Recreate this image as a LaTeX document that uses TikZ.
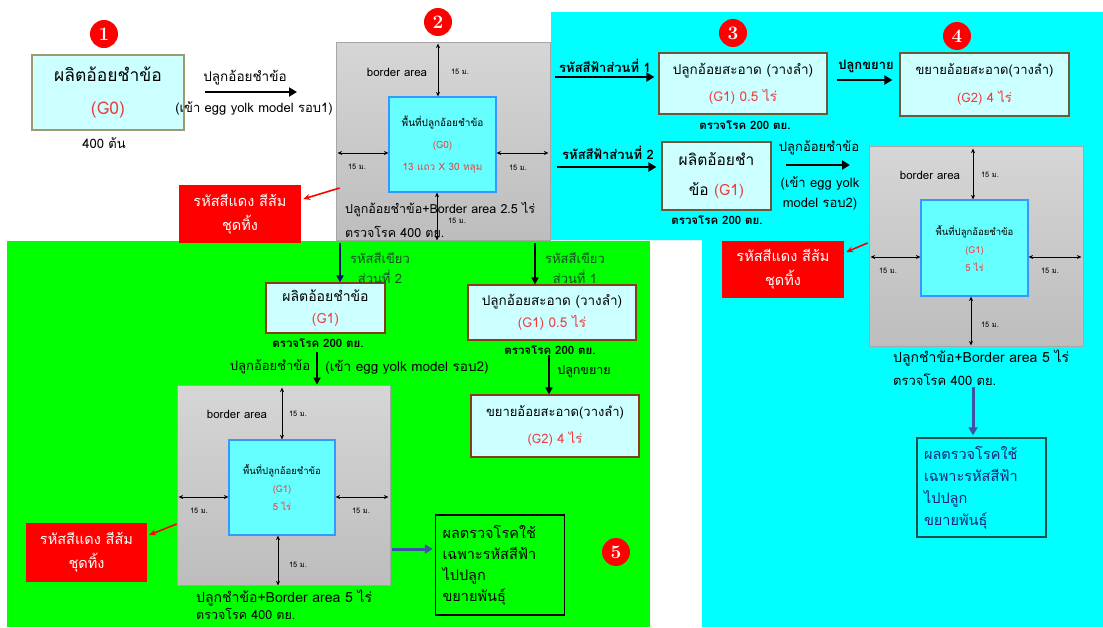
\documentclass[tikz,border=0pt]{standalone}
\usepackage{fontspec}
\newfontfamily\thai[Script=Thai]{Loma}
\usetikzlibrary{arrows.meta,calc}
\newcommand\fsz[2]{\fontsize{#1}{#2}\selectfont}
\definecolor{cyanbg}{HTML}{00FFFF}
\definecolor{greenbg}{HTML}{00FF00}
\definecolor{lcyan}{HTML}{CCFFFF}
\definecolor{incyan}{HTML}{66FFFF}
\definecolor{innerblue}{HTML}{3399FF}
\definecolor{boxred}{HTML}{FF0000}
\definecolor{tred}{HTML}{F03C3C}
\definecolor{olivebd}{HTML}{A09870}
\definecolor{darkolive}{HTML}{6B5A3A}
\definecolor{brownbd}{HTML}{8B3A1A}
\definecolor{navytxt}{HTML}{1A237E}
\definecolor{arrblue}{HTML}{3F51A5}
\definecolor{navyarr}{HTML}{101060}
\definecolor{dkgreen}{HTML}{145020}
\definecolor{tealbd}{HTML}{1F5050}
\definecolor{graytop}{HTML}{D6D6D6}
\definecolor{graybot}{HTML}{BDBDBD}
\begin{document}
\begin{tikzpicture}[x=1pt,y=-1pt,font=\thai,
  box/.style={draw=darkolive, fill=lcyan, line width=1.2pt, align=center, inner sep=0pt},
  graybox/.style={draw=gray!70, top color=graytop, bottom color=graybot, line width=0.8pt},
  inbox/.style={draw=innerblue, fill=incyan, line width=1.2pt, align=center, inner sep=0pt},
  redbox/.style={fill=boxred, draw=none, text=white, align=center, inner sep=0pt},
  resbox/.style={line width=1.4pt, align=left, inner xsep=7pt, text width=115pt},
  bigarr/.style={line width=2.6pt, -{Triangle[length=8pt,width=9pt]}},
  medarr/.style={line width=2pt, -{Triangle[length=7pt,width=7pt]}},
  dimarr/.style={line width=0.8pt, {Stealth[length=4.5pt,width=4pt]}-{Stealth[length=4.5pt,width=4pt]}},
  redarr/.style={draw=red, line width=1.6pt, -{Stealth[length=7pt,width=6pt]}},
  bluearr/.style={draw=arrblue, line width=3pt, -{Triangle[length=8pt,width=9pt]}},
  num/.style={circle, fill=red, text=white, minimum size=28pt, inner sep=0pt, font=\normalfont\bfseries\fsz{19}{19}},
  lbl/.style={font=\thai\fsz{13.5}{20}, align=center, inner sep=0pt},
  blbl/.style={font=\thai\bfseries\fsz{13}{20}, align=center, inner sep=0pt},
  chk/.style={font=\thai\bfseries\fsz{11.5}{12}, inner sep=0pt},
  dimlab/.style={font=\thai\fsz{7.5}{9}, inner sep=0pt},
  borderlab/.style={font=\thai\fsz{11.5}{12}, inner sep=0pt},
  glab/.style={font=\thai\fsz{14}{16}, anchor=west, inner sep=0pt}
]
\useasboundingbox (0,0) rectangle (1103,627);
\fill[white] (0,0) rectangle (1103,627);
\fill[cyanbg] (551,12) -- (1103,12) -- (1103,627) -- (702,627) -- (702,240) -- (551,240) -- cycle;
\fill[greenbg] (7,241) rectangle (650,627);

% ---------- 1 ----------
\node[num] (n1) at (104,34) {1};
\node[box, draw=olivebd, minimum width=152, minimum height=75, font=\thai\fsz{17.5}{33}] (b1) at (108,92.5) {ผลิตอ้อยชำข้อ\\\textcolor{tred}{(G0)}};
\node[font=\thai\fsz{13}{14}, inner sep=0pt] (c1) at (104,143) {400 ต้น};
\coordinate (a1s) at (205,92);
\coordinate (a1e) at (297,92);
\draw[bigarr] (a1s) -- (a1e);
\node[lbl] (a1t) at (245,78) {ปลูกอ้อยชำข้อ};
\node[lbl, font=\thai\fsz{13}{20}] (a1b) at (254,108) {(เข้า egg yolk model รอบ1)};

% ---------- 2 ----------
\node[num] (n2) at (438,22) {2};
\node[graybox, minimum width=214, minimum height=198] (g2) at (443,141) {};
\node[inbox, minimum width=107, minimum height=95, font=\thai\fsz{10}{22}] (in2) at (442.5,144.5) {พื้นที่ปลูกอ้อยชำข้อ\\\textcolor{tred}{(G0)}\\\textcolor{tred}{13 แถว X 30 หลุม}};
\draw[dimarr] ([xshift=-4.5]in2.north) -- ([xshift=-4.5,yshift=-2]in2.north |- g2.north);
\draw[dimarr] ([yshift=-8.5]in2.west) -- ([yshift=-8.5,xshift=2]in2.west -| g2.west);
\draw[dimarr] ([yshift=-8.5]in2.east) -- ([yshift=-8.5,xshift=-2]in2.east -| g2.east);
\draw[dimarr] ([xshift=-5.5]in2.south) -- ([xshift=-5.5]in2.south |- g2.south);
\node[borderlab] (ba2) at (397,72) {border area};
\node[dimlab] (d2t) at (460,72) {15 ม.};
\node[dimlab] (d2l) at (357,167) {15 ม.};
\node[dimlab] (d2r) at (518,168) {15 ม.};
\node[dimlab] (d2b) at (457,221) {15 ม.};
\node[font=\thai\fsz{12.5}{14}, anchor=west, inner sep=0pt] (g2t1) at (345,210) {ปลูกอ้อยชำข้อ+Border area 2.5 ไร่};
\node[font=\thai\fsz{12.5}{14}, anchor=west, inner sep=0pt] (g2t2) at (345,232) {ตรวจโรค 400 ตย.};
\node[redbox, minimum width=122, minimum height=58, font=\thai\fsz{14.5}{24}] (r1) at (240,214) {รหัสสีแดง สีส้ม\\ชุดทิ้ง};
\draw[redarr] ([yshift=-47,xshift=4]g2.west) -- ([yshift=15,xshift=2]r1.east);

% ---------- 3 ----------
\node[num] (n3) at (733,33) {3};
\node[blbl] (l3a) at (605,66) {รหัสสีฟ้าส่วนที่ 1};
\node[box, minimum width=168, minimum height=61, font=\thai\fsz{13.5}{27}] (b3a) at (743,83.5) {ปลูกอ้อยสะอาด (วางลำ)\\\textcolor{tred}{(G1) 0.5 ไร่}};
\draw[bigarr] ([xshift=-103,yshift=6.5]b3a.west) -- ([xshift=-4,yshift=6.5]b3a.west);
\node[chk] (k3a) at (745,125) {ตรวจโรค 200 ตย.};
\node[blbl] (l34) at (866,66) {ปลูกขยาย};

% ---------- 4 ----------
\node[num] (n4) at (957,36) {4};
\node[box, minimum width=169, minimum height=63, font=\thai\fsz{13}{28}] (b4) at (984.5,84.5) {ขยายอ้อยสะอาด(วางลำ)\\\textcolor{tred}{(G2) 4 ไร่}};
\draw[bigarr] ([xshift=9,yshift=3.5]b3a.east) -- ([xshift=-7,yshift=4.5]b4.west);

% ---------- 3b ----------
\node[blbl] (l3b) at (608,153) {รหัสสีฟ้าส่วนที่ 2};
\node[box, minimum width=109, minimum height=68, font=\thai\fsz{15.5}{30}] (b3b) at (716.5,176) {ผลิตอ้อยชำ\\ข้อ \textcolor{tred}{(G1)}};
\draw[bigarr] ([xshift=-104,yshift=9]b3b.west) -- ([xshift=-5,yshift=9]b3b.west);
\node[chk] (k3b) at (717,220) {ตรวจโรค 200 ตย.};
\coordinate (a3e) at (850,165);
\draw[bigarr] ([xshift=14,yshift=11]b3b.east) -- (a3e);
\node[font=\thai\fsz{13}{20}, inner sep=0pt] (a3t) at (819,148) {ปลูกอ้อยชำข้อ};
\node[font=\thai\fsz{13}{20}, align=center, inner sep=0pt] (a3b) at (820,193) {(เข้า egg yolk\\model รอบ2)};

% ---------- right gray ----------
\node[graybox, minimum width=214, minimum height=200] (g4) at (976,246) {};
\node[inbox, minimum width=107, minimum height=96, font=\thai\fsz{9.5}{18}] (in4) at (974.5,248) {พื้นที่ปลูกอ้อยชำข้อ\\\textcolor{tred}{(G1)}\\\textcolor{tred}{5 ไร่}};
\draw[dimarr] ([xshift=-1.5]in4.north) -- ([xshift=-1.5,yshift=-3]in4.north |- g4.north);
\draw[dimarr] ([yshift=-9]in4.west) -- ([yshift=-9,xshift=2]in4.west -| g4.west);
\draw[dimarr] ([yshift=-9]in4.east) -- ([yshift=-9,xshift=-2]in4.east -| g4.east);
\draw[dimarr] ([xshift=-3.5]in4.south) -- ([xshift=-3.5,yshift=1]in4.south |- g4.south);
\node[borderlab] (ba4) at (930,175) {border area};
\node[dimlab] (d4t) at (990,175) {15 ม.};
\node[dimlab] (d4l) at (888,271) {15 ม.};
\node[dimlab] (d4r) at (1050,271) {15 ม.};
\node[dimlab] (d4b) at (990,325) {15 ม.};
\node[glab] (g4t1) at (893,358) {ปลูกชำข้อ+Border area 5 ไร่};
\node[glab, font=\thai\fsz{13}{14}] (g4t2) at (893,380) {ตรวจโรค 400 ตย.};
\node[redbox, minimum width=122, minimum height=57, font=\thai\fsz{14.5}{24}] (r2) at (783,269.5) {รหัสสีแดง สีส้ม\\ชุดทิ้ง};
\draw[redarr] ([yshift=3,xshift=-1]g4.west) -- ([yshift=17.5,xshift=2]r2.east);
\node[resbox, draw=tealbd, minimum height=99, text=navytxt, font=\thai\fsz{14.5}{22}] (res2) at (981.5,487.5) {ผลตรวจโรคใช้\\เฉพาะรหัสสีฟ้า\\ไปปลูก\\ขยายพันธุ์};
\coordinate (bs2) at (973,387);
\draw[bluearr] (bs2) -- ([yshift=2]bs2 |- res2.north);

% ---------- green ----------
\node[box, draw=brownbd, minimum width=119, minimum height=50, font=\thai\fsz{14}{22}] (gG1) at (325.5,308) {ผลิตอ้อยชำข้อ\\\textcolor{tred}{(G1)}};
\draw[medarr, draw=navyarr] ([xshift=14.5,yshift=-3]gG1.north |- g2.south) -- ([xshift=14.5]gG1.north);
\node[lbl, font=\thai\fsz{13}{20}, text=dkgreen] (lg2) at (380,268) {รหัสสีเขียว\\ส่วนที่ 2};
\node[chk] (kg1) at (318,343) {ตรวจโรค 200 ตย.};

\node[box, draw=brownbd, minimum width=168, minimum height=55, font=\thai\fsz{13.5}{22}] (gA) at (552,312.5) {ปลูกอ้อยสะอาด (วางลำ)\\\textcolor{tred}{(G1) 0.5 ไร่}};
\draw[medarr] ([xshift=-17,yshift=-3]gA.north |- g2.south) -- ([xshift=-17]gA.north);
\node[lbl, font=\thai\fsz{13}{20}, text=dkgreen] (lg1) at (575,268) {รหัสสีเขียว\\ส่วนที่ 1};
\node[chk] (kga) at (550,350) {ตรวจโรค 200 ตย.};
\node[box, draw=brownbd, minimum width=168, minimum height=62, font=\thai\fsz{13}{27}] (gB) at (555,426) {ขยายอ้อยสะอาด(วางลำ)\\\textcolor{tred}{(G2) 4 ไร่}};
\coordinate (gas) at (549,355);
\draw[medarr] (gas) -- (gas |- gB.north);
\node[font=\thai\fsz{12.5}{14}, inner sep=0pt] (lgab) at (584,372) {ปลูกขยาย};

\node[graybox, minimum width=213, minimum height=200] (g5) at (283.5,485) {};
\node[inbox, minimum width=106, minimum height=95, font=\thai\fsz{9.5}{18}] (in5) at (282,487.5) {พื้นที่ปลูกอ้อยชำข้อ\\\textcolor{tred}{(G1)}\\\textcolor{tred}{5 ไร่}};
\coordinate (g5s) at (317,352);
\draw[medarr] (g5s) -- (g5s |- g5.north);
\node[font=\thai\fsz{13}{14}, inner sep=0pt] (l5a) at (270,367) {ปลูกอ้อยชำข้อ};
\node[font=\thai\fsz{13.5}{14}, inner sep=0pt] (l5b) at (407,367) {(เข้า egg yolk model รอบ2)};
\draw[dimarr] (in5.north) -- ([yshift=-3]in5.north |- g5.north);
\draw[dimarr] ([yshift=-9.5]in5.west) -- ([yshift=-9.5,xshift=2]in5.west -| g5.west);
\draw[dimarr] ([yshift=-9.5]in5.east) -- ([yshift=-9.5,xshift=-2]in5.east -| g5.east);
\draw[dimarr] ([xshift=-4]in5.south) -- ([xshift=-4]in5.south |- g5.south);
\node[borderlab] (ba5) at (237,414) {border area};
\node[dimlab] (d5t) at (298,414) {15 ม.};
\node[dimlab] (d5l) at (199,511) {15 ม.};
\node[dimlab] (d5r) at (361,511) {15 ม.};
\node[dimlab] (d5b) at (298,565) {15 ม.};
\node[glab] (g5t1) at (196,598) {ปลูกชำข้อ+Border area 5 ไร่};
\node[glab, font=\thai\fsz{12.5}{13}] (g5t2) at (196,614) {ตรวจโรค 400 ตย.};
\node[redbox, minimum width=121, minimum height=59, font=\thai\fsz{14.5}{24}] (r3) at (86.5,552.5) {รหัสสีแดง สีส้ม\\ชุดทิ้ง};
\draw[redarr] ([yshift=-39]g5.west) -- ([yshift=17.5,xshift=2]r3.east);
\node[resbox, draw=black, minimum height=100, font=\thai\fsz{14.5}{21}] (res1) at (500,565) {ผลตรวจโรคใช้\\เฉพาะรหัสสีฟ้า\\ไปปลูก\\ขยายพันธุ์};
\draw[bluearr] ([yshift=-64,xshift=2]g5.east) -- ([yshift=16,xshift=-2]res1.west);
\node[num] (n5) at (616,552) {5};
\end{tikzpicture}
\end{document}
